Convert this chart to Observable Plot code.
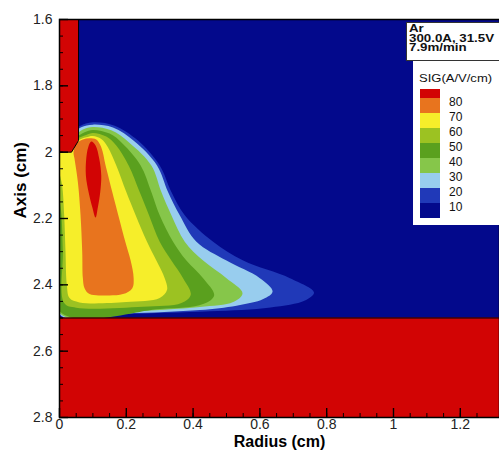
<!DOCTYPE html>
<html><head><meta charset="utf-8">
<script src="https://cdn.jsdelivr.net/npm/d3@7"></script>
<script src="https://cdn.jsdelivr.net/npm/@observablehq/plot@0.6"></script>
<style>
html,body{margin:0;padding:0;background:#fff;}
#wrap{position:relative;width:499px;height:451px;overflow:hidden;font-family:Arial,"Liberation Sans",sans-serif;}
#wrap svg{display:block;}
.abs{position:absolute;white-space:nowrap;}
</style></head>
<body><div id="wrap"></div>
<script>
// ---- axes ----
const xTicks = [0, 0.2, 0.4, 0.6, 0.8, 1, 1.2];
const yTicks = [1.6, 1.8, 2, 2.2, 2.4, 2.6, 2.8];
const xDomain = [0, 1.3174];
const yDomain = [1.6, 2.8];

// ---- contour levels (SIG, A/V/cm) ----
const levels = [10, 20, 30, 40, 50, 60, 70, 80];
const navy = "#03098c";
const levelColors = ["#2039b8", "#98cdee", "#86c64a", "#5aa01e", "#9cc222", "#f6ee2a", "#e8741e", "#d20404"];

// boundaries of region SIG >= level, [radius, axis] in cm
const sig10 = [[0,1.99],[0.03,1.95],[0.06,1.922],[0.1,1.91],[0.165,1.92],[0.235,1.965],[0.3,2.04],[0.335,2.12],[0.375,2.19],[0.46,2.27],[0.55,2.327],[0.69,2.38],[0.762,2.423],[0.735,2.447],[0.632,2.468],[0.45,2.48],[0.2,2.488],[0,2.492]];
const sig20 = [[0,1.99],[0.035,1.95],[0.065,1.925],[0.1,1.917],[0.16,1.926],[0.225,1.968],[0.292,2.04],[0.325,2.12],[0.36,2.19],[0.41,2.27],[0.5,2.327],[0.6,2.38],[0.638,2.42],[0.61,2.443],[0.53,2.463],[0.42,2.476],[0.2,2.486],[0,2.489]];
const sig30 = [[0,1.99],[0.04,1.955],[0.07,1.932],[0.1,1.924],[0.155,1.934],[0.21,1.972],[0.275,2.04],[0.305,2.12],[0.335,2.19],[0.375,2.27],[0.43,2.327],[0.5,2.38],[0.548,2.425],[0.52,2.452],[0.42,2.467],[0.2,2.481],[0,2.485]];
const sig40 = [[0,1.99],[0.045,1.958],[0.075,1.94],[0.1,1.933],[0.15,1.944],[0.19,1.975],[0.243,2.04],[0.275,2.12],[0.3,2.19],[0.34,2.27],[0.38,2.327],[0.43,2.38],[0.463,2.432],[0.43,2.458],[0.3,2.473],[0,2.48]];
const sig50 = [[0,1.99],[0.05,1.96],[0.08,1.948],[0.1,1.942],[0.14,1.953],[0.17,1.98],[0.207,2.04],[0.24,2.12],[0.268,2.19],[0.3,2.27],[0.335,2.327],[0.37,2.38],[0.393,2.43],[0.365,2.455],[0.25,2.466],[0.05,2.469],[0.014,2.455],[0.01,2.3],[0.006,2.19],[0,2.13]];
const sig60 = [[0.03,1.99],[0.055,1.965],[0.08,1.955],[0.1,1.951],[0.125,1.96],[0.145,1.985],[0.17,2.04],[0.2,2.12],[0.228,2.19],[0.262,2.27],[0.29,2.327],[0.315,2.38],[0.322,2.415],[0.3,2.44],[0.2,2.452],[0.06,2.453],[0.03,2.44],[0.022,2.4],[0.018,2.3],[0.014,2.19],[0.008,2.1],[0,2.06],[0,2.0]];
const sig70 = [[0.05,1.975],[0.07,1.962],[0.09,1.958],[0.11,1.962],[0.125,1.985],[0.138,2.04],[0.158,2.12],[0.176,2.19],[0.197,2.27],[0.213,2.327],[0.222,2.38],[0.218,2.41],[0.19,2.428],[0.13,2.432],[0.09,2.428],[0.075,2.41],[0.07,2.38],[0.068,2.3],[0.063,2.19],[0.055,2.09],[0.045,2.02],[0.042,2.0]];
const sig80 = [[0.095,1.968],[0.108,1.98],[0.119,2.02],[0.125,2.07],[0.122,2.12],[0.115,2.165],[0.108,2.197],[0.098,2.165],[0.087,2.12],[0.079,2.07],[0.08,2.02],[0.086,1.985]];
const contours = [sig10, sig20, sig30, sig40, sig50, sig60, sig70, sig80];

// electrodes
const cathode = [[0,1.6],[0.057,1.6],[0.057,1.965],[0.036,2.0],[0,2.0]];
const anode = [{top: 2.5, bottom: 2.8}];

// annotation
const infoLines = ["Ar", "300.0A, 31.5V", "7.9m/min"];
const legendTitle = "SIG(A/V/cm)";

// ---- plot ----
const W = 499, H = 451, mL = 59, mR = 0, mT = 19, mB = 34;
const innerW = W - mL - mR, innerH = H - mT - mB;
const xMinor = d3.range(0, 1.3, 0.05);
const yMinor = d3.range(1.6, 2.8001, 0.05);

const plot = Plot.plot({
  width: W, height: H,
  marginLeft: mL, marginRight: mR, marginTop: mT, marginBottom: mB,
  style: {fontFamily: "Arial, 'Liberation Sans', sans-serif", fontSize: "14px", color: "#222", background: "#fff"},
  x: {domain: xDomain, axis: null},
  y: {domain: yDomain, reverse: true, axis: null},
  color: {type: "ordinal", domain: [0, ...levels], range: [navy, ...levelColors]},
  marks: [
    Plot.frame({fill: navy, stroke: "none"}),
    ...levels.map((L, i) => Plot.line(contours[i], {
      x: d => d[0], y: d => d[1], fill: () => L, stroke: "none",
      curve: "catmull-rom-closed", clip: true
    })),
    Plot.rect(anode, {x1: xDomain[0], x2: xDomain[1], y1: d => d.top, y2: d => d.bottom, fill: () => 80}),
    Plot.ruleY(anode, {y: d => d.top, stroke: "#000", strokeWidth: 1.2}),
    Plot.line(cathode, {x: d => d[0], y: d => d[1], fill: () => 80, stroke: "#000", strokeWidth: 1, curve: "linear-closed", clip: true}),
    Plot.tickX(xMinor, {x: d => d, insetTop: innerH - 4, stroke: "#000", strokeWidth: 1}),
    Plot.tickX(xTicks, {x: d => d, insetTop: innerH - 9, stroke: "#000", strokeWidth: 1.4}),
    Plot.tickY(yMinor, {y: d => d, insetRight: innerW - 4, stroke: "#000", strokeWidth: 1}),
    Plot.tickY(yTicks, {y: d => d, insetRight: innerW - 9, stroke: "#000", strokeWidth: 1.4}),
    Plot.frame({stroke: "#000", strokeWidth: 1.5}),
    Plot.axisX({ticks: xTicks, tickSize: 0, tickPadding: 2, tickFormat: d => String(+d.toFixed(1)), label: null, fill: "#222"}),
    Plot.axisY({ticks: yTicks, tickSize: 0, tickPadding: 7, tickFormat: d => String(+d.toFixed(1)), label: null, fill: "#222"}),
    Plot.text(["Radius (cm)"], {frameAnchor: "bottom", dy: 29.5, text: d => d, fontWeight: "bold", fontSize: 16, fill: "#000"}),
    Plot.text(["Axis (cm)"], {frameAnchor: "left", dx: -39, rotate: -90, text: d => d, fontWeight: "bold", fontSize: 17, fill: "#000"})
  ]
});

const wrap = document.getElementById("wrap");
wrap.appendChild(plot);

// ---- legend overlay ----
function el(css, text) {
  const d = document.createElement("div");
  d.className = "abs";
  d.style.cssText = css;
  if (text != null) d.textContent = text;
  wrap.appendChild(d);
  return d;
}
el("left:406px;top:22px;width:110px;height:39px;background:#fff;border:1px solid #333;box-sizing:border-box;");
infoLines.forEach((t, i) => el(`left:409px;top:${24 + i * 9.5}px;font-weight:bold;font-size:10px;line-height:10px;color:#111;transform:scaleX(1.33);transform-origin:0 0;`, t));
el("left:413px;top:61px;width:100px;height:164px;background:#fff;");
el("left:419px;top:73px;font-size:10.5px;line-height:11px;color:#111;transform:scaleX(1.24);transform-origin:0 0;", legendTitle);
// swatches: top red (>=80) down to navy (<10)
const swatchColors = [...levelColors].reverse().concat([navy]);
const bounds = [89, 98, 113, 128, 143, 158, 173, 188, 203, 218];
swatchColors.forEach((c, i) => el(`left:420px;top:${bounds[i]}px;width:20px;height:${bounds[i+1]-bounds[i]}px;background:${c};`));
[...levels].reverse().forEach((L, i) => el(`left:449px;top:${bounds[i+1] + 4.5 - 6.5}px;font-size:12px;line-height:13px;color:#111;`, String(L)));
</script></body></html>
